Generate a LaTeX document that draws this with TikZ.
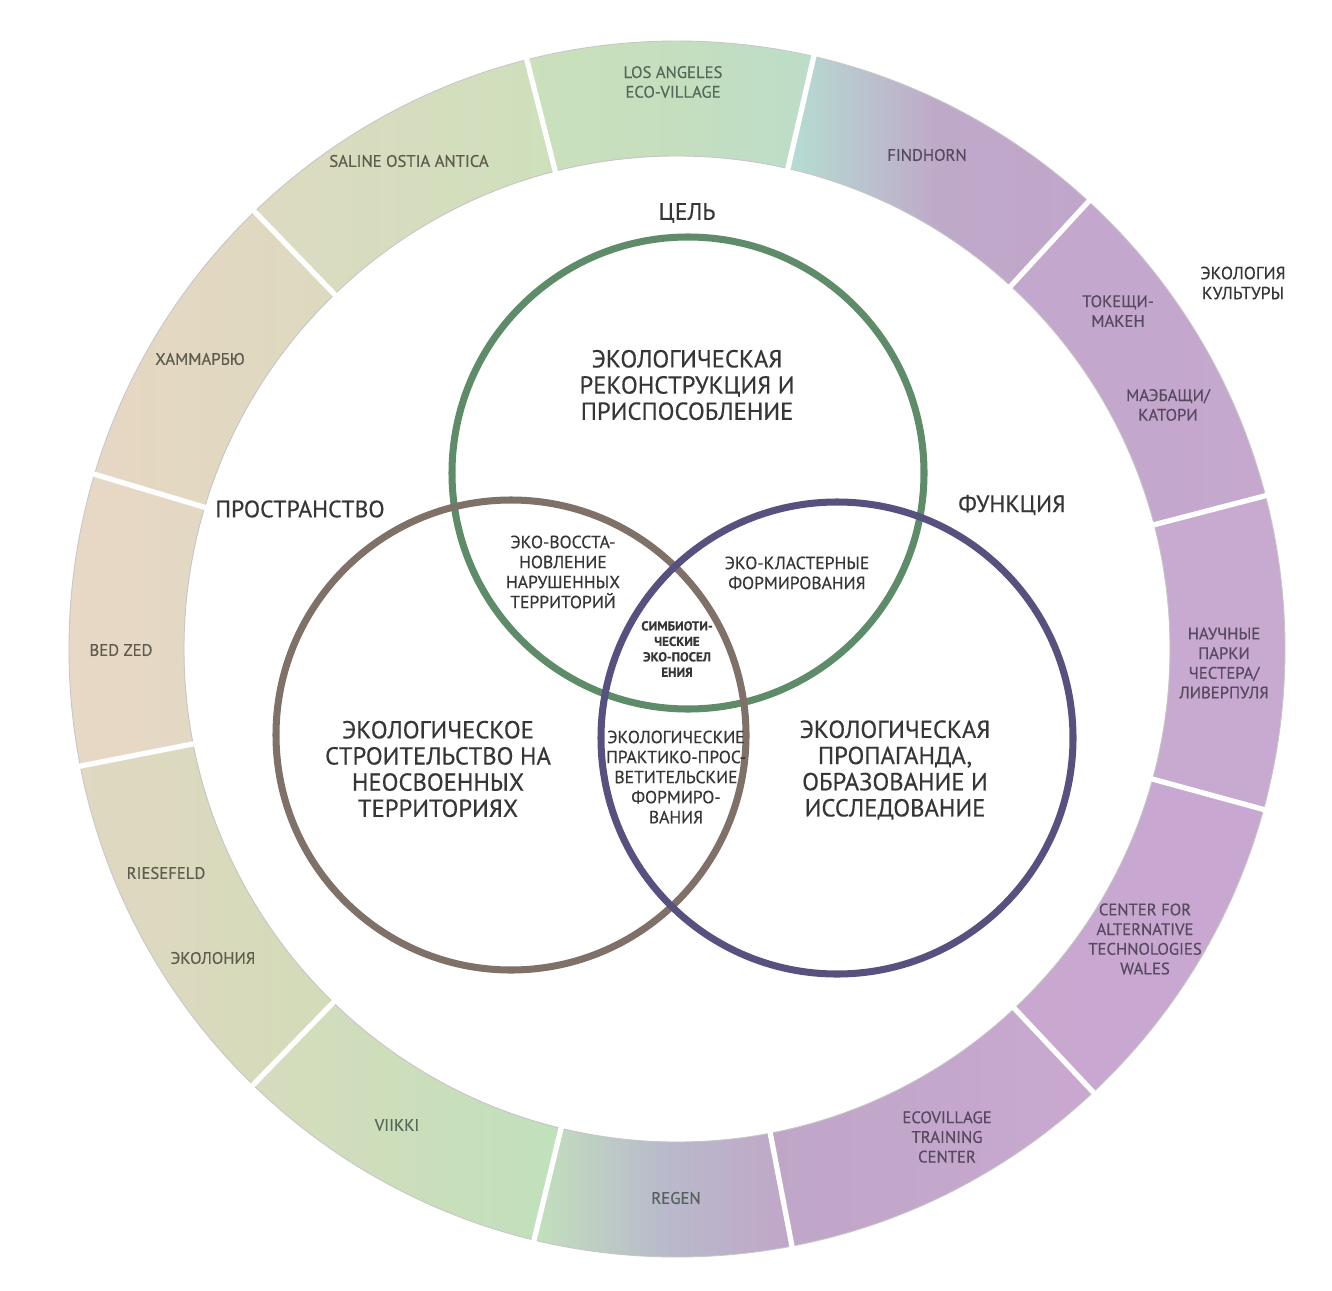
\documentclass[tikz,border=0pt]{standalone}
\usepackage{fontspec}
\setmainfont{PT Sans}[FakeBold=0.45]

\definecolor{goalgreen}{HTML}{5E8C68}
\definecolor{spacebrown}{HTML}{7F7068}
\definecolor{funcblue}{HTML}{57517F}
\definecolor{txtgray}{HTML}{363636}
\definecolor{ringbeige}{HTML}{5E5C4C}
\definecolor{ringgreen}{HTML}{56685A}
\definecolor{ringpurple}{HTML}{574A60}

\begin{document}
\begin{tikzpicture}[x=0.02cm, y=-0.02cm,
	bigtxt/.style={font=\fontsize{14}{14.9}\selectfont, text=txtgray, align=center, inner sep=0pt},
	headtxt/.style={font=\fontsize{13.5}{14}\selectfont, text=txtgray, align=center, inner sep=0pt},
	smalltxt/.style={font=\fontsize{10}{11.4}\selectfont, text=txtgray, align=center, inner sep=0pt},
	tinytxt/.style={font=\fontsize{7.4}{8.8}\selectfont\bfseries, text=txtgray, align=center, inner sep=0pt},
	ringtxt/.style={font=\fontsize{9.5}{11.2}\selectfont, align=center, inner sep=0pt},
	venn/.style={line width=4pt},
	]
	\useasboundingbox (0,0) rectangle (1332,1291);

	% outer ring of examples
	\begin{scope}[shift={(677,649)}, yscale=-1]
		\foreach \a/\b/\lc/\mc/\rc in {
			77/104.3/CBE0BC/C5DFBE/BCDDC9,
			104.3/134/DDDAC1/D6DDBE/CDE0BC,
			134/163.3/E6D7C3/E2D8C1/DCD9BF,
			163.3/191.1/E8D8C6/E6D8C5/E2D8C4,
			191.1/225.8/E0D8C2/DAD9BD/D2DCB8,
			225.8/256.4/D6DCBD/CCDEBB/C0E0BC,
			256.4/280.9/C2E0BC/B9BACB/C0A6C8,
			280.9/313.2/BFA6C7/C4A7CC/C9A8D0,
			313.2/344.7/C8A8CF/C8A8D0/C8A8D0,
			-15.3/14.6/C8A9D0/C8A9D0/C8A9D0,
			14.6/47.4/C3A7CC/C4A7CD/C6A8CE,
			47.4/77/B5DDD2/BFA9C9/C1A6CB} {
			\definecolor{segL}{HTML}{\lc}
			\definecolor{segM}{HTML}{\mc}
			\definecolor{segR}{HTML}{\rc}
			\shade[left color=segL, right color=segR, middle color=segM]
				(\a:608) arc[start angle=\a, end angle=\b, radius=608]
				-- (\b:493) arc[start angle=\b, end angle=\a, radius=493] -- cycle;
		}
		\draw[gray!45, line width=0.5pt] (0,0) circle[radius=608] (0,0) circle[radius=493];
		\foreach \a in {77, 104.3, 134, 163.3, 191.1, 225.8, 256.4, 280.9, 313.2, 344.7, 14.6, 47.4}
			\draw[white, line width=3pt] (\a:486) -- (\a:616);
	\end{scope}

	% three circles
	\draw[venn, goalgreen] (688,473) circle[radius=236];
	\draw[venn, spacebrown] (511,735) circle[radius=235];
	\draw[venn, funcblue] (837,738) circle[radius=236];

	% headings
	\node[headtxt] (goal) at (687,213) {ЦЕЛЬ};
	\node[headtxt] (space) at (300,509) {ПРОСТРАНСТВО};
	\node[headtxt] (func) at (1012,505) {ФУНКЦИЯ};
	\node[smalltxt] (culture) at (1243,283) {ЭКОЛОГИЯ\\КУЛЬТУРЫ};

	% circle contents
	\node[bigtxt] (recon) at (687,385) {ЭКОЛОГИЧЕСКАЯ\\РЕКОНСТРУКЦИЯ И\\ПРИСПОСОБЛЕНИЕ};
	\node[bigtxt] (build) at (438,769) {ЭКОЛОГИЧЕСКОЕ\\СТРОИТЕЛЬСТВО НА\\НЕОСВОЕННЫХ\\ТЕРРИТОРИЯХ};
	\node[bigtxt] (promo) at (895,770) {ЭКОЛОГИЧЕСКАЯ\\ПРОПАГАНДА,\\ОБРАЗОВАНИЕ И\\ИССЛЕДОВАНИЕ};
	\node[smalltxt] (restore) at (563,572) {ЭКО-ВОССТА-\\НОВЛЕНИЕ\\НАРУШЕННЫХ\\ТЕРРИТОРИЙ};
	\node[smalltxt] (cluster) at (797,573) {ЭКО-КЛАСТЕРНЫЕ\\ФОРМИРОВАНИЯ};
	\node[tinytxt] (symb) at (677,649) {СИМБИОТИ-\\ЧЕСКИЕ\\ЭКО-ПОСЕЛ\\ЕНИЯ};
	\node[smalltxt] (practice) at (676,777) {ЭКОЛОГИЧЕСКИЕ\\ПРАКТИКО-ПРОС-\\ВЕТИТЕЛЬСКИЕ\\ФОРМИРО-\\ВАНИЯ};

	% ring labels
	\node[ringtxt, text=ringgreen] (la) at (673,82) {LOS ANGELES\\ECO-VILLAGE};
	\node[ringtxt, text=ringpurple] (findhorn) at (927,155) {FINDHORN};
	\node[ringtxt, text=ringpurple] (tokeshi) at (1118,311) {ТОКЕЩИ-\\МАКЕН};
	\node[ringtxt, text=ringpurple] (maebashi) at (1168,405) {МАЭБАЩИ/\\КАТОРИ};
	\node[ringtxt, text=ringpurple] (sciparks) at (1224,663) {НАУЧНЫЕ\\ПАРКИ\\ЧЕСТЕРА/\\ЛИВЕРПУЛЯ};
	\node[ringtxt, text=ringpurple] (cat) at (1145,939) {CENTER FOR\\ALTERNATIVE\\TECHNOLOGIES\\WALES};
	\node[ringtxt, text=ringpurple] (evtc) at (947,1137) {ECOVILLAGE\\TRAINING\\CENTER};
	\node[ringtxt, text=ringgreen!80!ringpurple] (regen) at (676,1198) {REGEN};
	\node[ringtxt, text=ringgreen] (viikki) at (397,1125) {VIIKKI};
	\node[ringtxt, text=ringbeige] (riesefeld) at (166,873) {RIESEFELD};
	\node[ringtxt, text=ringbeige] (ekolonia) at (213,958) {ЭКОЛОНИЯ};
	\node[ringtxt, text=ringbeige] (bedzed) at (121,650) {BED ZED};
	\node[ringtxt, text=ringbeige] (hammarby) at (200,359) {ХАММАРБЮ};
	\node[ringtxt, text=ringbeige] (saline) at (409,161) {SALINE OSTIA ANTICA};
\end{tikzpicture}
\end{document}
